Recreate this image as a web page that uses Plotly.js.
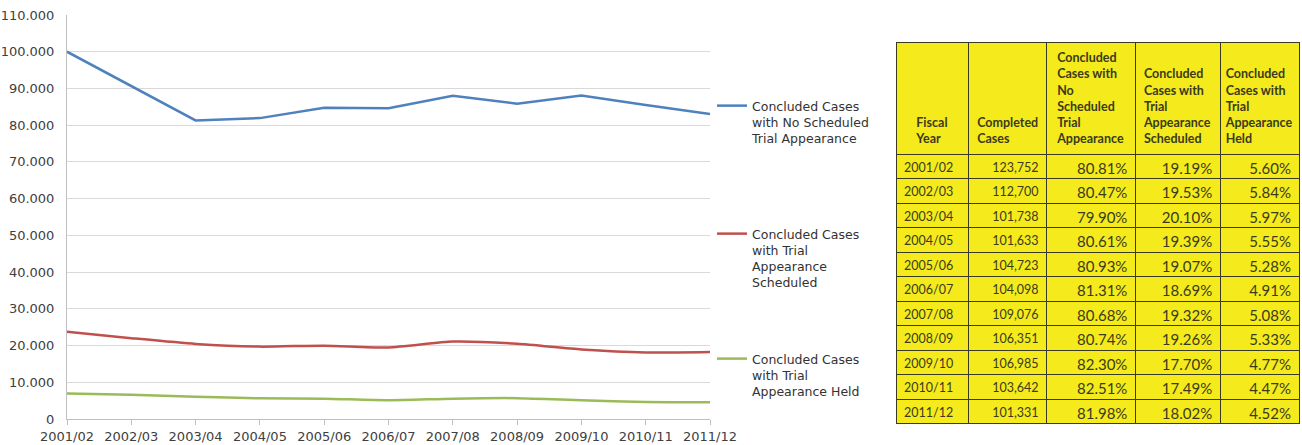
<!DOCTYPE html>
<html>
<head>
<meta charset="utf-8">
<script src="https://cdn.plot.ly/plotly-3.0.1.min.js"></script>
<style>html,body{margin:0;padding:0;background:#fff;}#chart{width:1302px;height:445px;}</style>
</head>
<body>
<div id="chart"></div>
<script>
// ---- data ----
const fiscalYears = ["2001/02","2002/03","2003/04","2004/05","2005/06","2006/07","2007/08","2008/09","2009/10","2010/11","2011/12"];
const noScheduled = [100004, 90690, 81289, 81926, 84752, 84642, 88003, 85868, 88049, 85515, 83071];
const trialScheduled = [23748, 22010, 20449, 19707, 19971, 19456, 21073, 20483, 18936, 18127, 18260];
const trialHeld = [6930, 6582, 6074, 5641, 5529, 5111, 5541, 5669, 5103, 4633, 4580];

const completedCases = ["123,752","112,700","101,738","101,633","104,723","104,098","109,076","106,351","106,985","103,642","101,331"];
const pctNoScheduled = ["80.81%","80.47%","79.90%","80.61%","80.93%","81.31%","80.68%","80.74%","82.30%","82.51%","81.98%"];
const pctScheduled = ["19.19%","19.53%","20.10%","19.39%","19.07%","18.69%","19.32%","19.26%","17.70%","17.49%","18.02%"];
const pctHeld = ["5.60%","5.84%","5.97%","5.55%","5.28%","4.91%","5.08%","5.33%","4.77%","4.47%","4.52%"];

const seriesNames = [
  "Concluded Cases<br>with No Scheduled<br>Trial Appearance",
  "Concluded Cases<br>with Trial<br>Appearance<br>Scheduled",
  "Concluded Cases<br>with Trial<br>Appearance Held"
];
const tableHeaders = [
  "Fiscal<br>Year",
  "Completed<br>Cases",
  "Concluded<br>Cases with<br>No<br>Scheduled<br>Trial<br>Appearance",
  "Concluded<br>Cases with<br>Trial<br>Appearance<br>Scheduled",
  "Concluded<br>Cases with<br>Trial<br>Appearance<br>Held"
];

// ---- build ----
const W = 1302, H = 445;
const NB = "\u00a0";
function padTop(s, total) {
  const n = s.split("<br>").length;
  let pre = "";
  for (let i = 0; i < total - n; i++) pre += NB + "<br>";
  return pre + s;
}
const headerVals = tableHeaders.map(h => ["<b>" + padTop(h, 6).split("<br>").join("</b><br><b>") + "</b>"]);

const colors = ["#4F81BD", "#C0504D", "#9BBB59"];
const lineData = [noScheduled, trialScheduled, trialHeld];
const legendNames = ["legend", "legend2", "legend3"];
const traces = lineData.map((vals, i) => ({
  type: "scatter", mode: "lines", x: fiscalYears, y: vals,
  name: seriesNames[i], legend: legendNames[i],
  line: {color: colors[i], width: 2.5, shape: i === 0 ? "linear" : "spline", smoothing: 0.6},
  hoverinfo: "skip"
}));

const yellow = "#F4EA1C";
const tableFont = "Lato, 'Liberation Sans', sans-serif";
traces.push({
  type: "table",
  domain: {x: [896 / W, 1300 / W], y: [0, 1 - 42 / H]},
  columnwidth: [73, 78, 89, 85, 79],
  header: {
    values: headerVals,
    align: "center",
    height: 104,
    fill: {color: yellow},
    line: {color: "#3a3a20", width: 1},
    font: {family: tableFont, size: 12.5, color: "#3b3b1c"}
  },
  cells: {
    values: [fiscalYears, completedCases, pctNoScheduled, pctScheduled, pctHeld],
    align: ["left", "right", "right", "right", "right"],
    height: 24.5,
    fill: {color: yellow},
    line: {color: "#3a3a20", width: 1},
    font: {family: tableFont, size: [12.5, 12.5, 15, 15, 15], color: "#3b3b1c"}
  }
});

function legendAt(symY) {
  return {
    x: 712 / W, xanchor: "left",
    y: (H - symY + 6) / H, yanchor: "top",
    valign: "top",
    bgcolor: "rgba(0,0,0,0)",
    font: {family: "'DejaVu Sans', Verdana, sans-serif", size: 12.5, color: "#333"},
    tracegroupgap: 0
  };
}

const layout = {
  width: W, height: H,
  margin: {l: 0, r: 0, t: 0, b: 0, pad: 0},
  paper_bgcolor: "#fff", plot_bgcolor: "#fff",
  separators: ",.",
  showlegend: true,
  legend: legendAt(97),
  legend2: legendAt(225),
  legend3: legendAt(350),
  font: {family: "'DejaVu Sans', Verdana, sans-serif", size: 13, color: "#404040"},
  xaxis: {
    domain: [67 / W, 710 / W],
    type: "category", range: [0, fiscalYears.length - 1],
    showgrid: false, showline: true, linecolor: "#bfbfbf", linewidth: 1,
    ticks: "outside", ticklen: 5, tickcolor: "#bfbfbf",
    tickfont: {size: 13, color: "#404040"}, zeroline: false, fixedrange: true
  },
  yaxis: {
    domain: [(H - 419) / H, (H - 15) / H],
    range: [0, 110000], dtick: 10000, tick0: 0, tickformat: ",",
    showgrid: true, gridcolor: "#d9d9d9", gridwidth: 1,
    showline: true, linecolor: "#bfbfbf", linewidth: 1,
    ticks: "", ticklabelstandoff: 9,
    tickfont: {size: 13, color: "#404040"}, zeroline: false, fixedrange: true
  }
};

Plotly.newPlot("chart", traces, layout, {staticPlot: true, displayModeBar: false});
</script>
</body>
</html>
